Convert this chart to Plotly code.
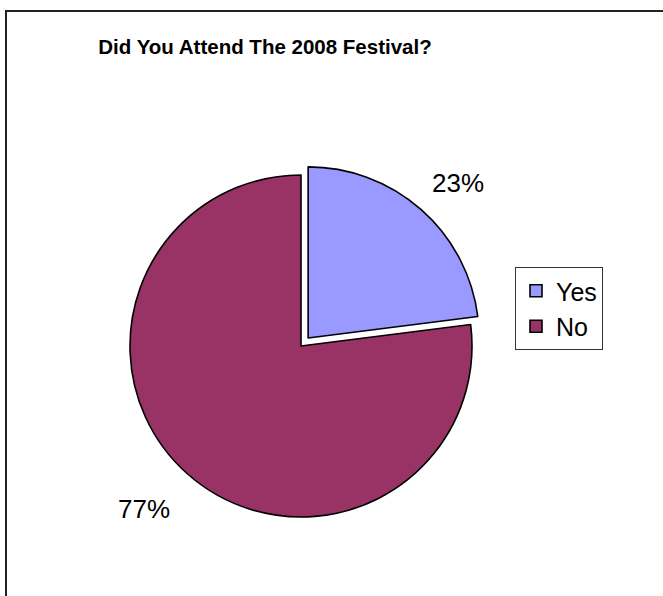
import math
import plotly.graph_objects as go

# Survey answers
answers = ["Yes", "No"]
shares = [23, 77]
slice_colors = ["#9999FF", "#993366"]
pull_out = [0.063, 0]

W, H = 663, 596
FONT = "Liberation Sans, Arial, sans-serif"

# Pie placement in pixels (centre and radius of the unpulled pie)
CX, CY, R = 301, 346, 171
box = 2 * R * (1 + max(pull_out))


def px_x(v):
    return v / W


def px_y(v):
    return 1 - v / H


fig = go.Figure(
    go.Pie(
        labels=answers,
        values=shares,
        sort=False,
        direction="clockwise",
        rotation=0,
        pull=pull_out,
        marker=dict(colors=slice_colors, line=dict(color="#000000", width=1.6)),
        textinfo="none",
        hoverinfo="label+percent",
        domain=dict(
            x=[px_x(CX - box / 2), px_x(CX + box / 2)],
            y=[px_y(CY + box / 2), px_y(CY - box / 2)],
        ),
    )
)

# Percentage labels placed outside each slice, along its bisector
total = sum(shares)
annotations = []
start = 0.0
for name, val in zip(answers, shares):
    mid = (start + val / 2) / total * 2 * math.pi
    start += val
    dx, dy = math.sin(mid), -math.cos(mid)
    dist = 1.14 * R
    ax, ay = CX + dx * dist, CY + dy * dist
    annotations.append(
        dict(
            x=px_x(ax),
            y=px_y(ay),
            xref="paper",
            yref="paper",
            text=f"{round(val / total * 100)}%",
            showarrow=False,
            xanchor="left" if dx >= 0 else "right",
            yanchor="bottom" if dy < 0 else "top",
            font=dict(family=FONT, size=26, color="#000000"),
        )
    )

fig.update_layout(
    width=W,
    height=H,
    margin=dict(l=0, r=0, t=0, b=0),
    paper_bgcolor="#FFFFFF",
    plot_bgcolor="#FFFFFF",
    title=dict(
        text="<b>Did You Attend The 2008 Festival?</b>",
        x=px_x(265),
        xanchor="center",
        y=px_y(47),
        yanchor="middle",
        font=dict(family=FONT, size=20.5, color="#000000"),
    ),
    legend=dict(
        x=px_x(515),
        y=px_y(267),
        xanchor="left",
        yanchor="top",
        bgcolor="#FFFFFF",
        bordercolor="#333333",
        borderwidth=1,
        font=dict(family=FONT, size=25, color="#000000"),
        itemwidth=30,
    ),
    showlegend=True,
    annotations=annotations,
    shapes=[
        dict(
            type="rect",
            xref="paper",
            yref="paper",
            x0=px_x(6),
            y0=-0.2,
            x1=1.2,
            y1=px_y(11),
            line=dict(color="#222222", width=2),
            fillcolor="rgba(0,0,0,0)",
            layer="below",
        )
    ],
)

fig.write_html("out.html")
